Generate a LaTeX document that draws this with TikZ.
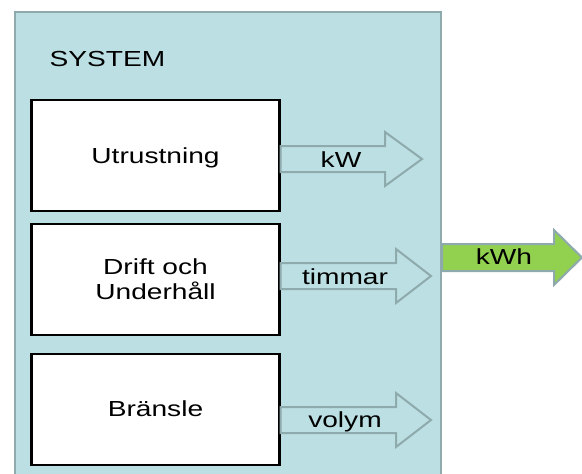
\documentclass[tikz,border=0pt]{standalone}
\usepackage{fontspec}
\setmainfont[FakeStretch=1.29]{Liberation Sans}
\definecolor{sysfill}{HTML}{BBDFE2}
\definecolor{sysline}{HTML}{8FAAAD}
\definecolor{kwhgreen}{HTML}{92D050}
\begin{document}
\begin{tikzpicture}[x=1pt,y=-1pt,
  lbl/.style={font=\fontsize{21.8}{25}\selectfont, inner sep=0pt, anchor=base},
  compbox/.style={draw=black, line width=2.2pt, fill=white, minimum width=248pt, minimum height=111pt, inner sep=0pt},
  flowarrow/.style={draw=sysline, line width=2pt, fill=sysfill, line join=miter},
  outarrow/.style={draw=sysline, line width=2pt, fill=kwhgreen, line join=miter}]
\useasboundingbox (0,0) rectangle (582,474);
\begin{scope}
\clip (0,0) rectangle (582,474);
% system box
\node[draw=sysline, line width=2pt, fill=sysfill, minimum width=426pt, minimum height=480pt, inner sep=0pt, anchor=north west] (sys) at (14,10.5) {};
\node[lbl, anchor=base west] (systxt) at (49.5,66) {SYSTEM};
% component boxes
\node[compbox] (b1) at (155.5,155.5) {};
\node[compbox] (b2) at (155.5,279.5) {};
\node[compbox] (b3) at (155.5,409.5) {};
\node[lbl] (t1) at (155.5,163) {Utrustning};
\node[lbl, align=center] (t2) at (155.5,299) {Drift och\\Underhåll};
\node[lbl] (t3) at (155.5,416) {Bränsle};
% flow arrows
\draw[flowarrow] (b1.east |- 0,146) -- (385,146) -- (385,132) -- (422,159) -- (385,186) -- (385,172) -- (b1.east |- 0,172) -- cycle;
\draw[flowarrow] (b2.east |- 0,263) -- (396,263) -- (396,249) -- (431,276) -- (396,303) -- (396,289) -- (b2.east |- 0,289) -- cycle;
\draw[flowarrow] (b3.east |- 0,407) -- (396,407) -- (396,393) -- (431,420) -- (396,447) -- (396,433) -- (b3.east |- 0,433) -- cycle;
\node[lbl] (a1) at (341,167) {kW};
\node[lbl] (a2) at (345,284) {timmar};
\node[lbl] (a3) at (345,427) {volym};
% output arrow
\draw[outarrow] (sys.east |- 0,244) -- (554,244) -- (554,230) -- (582,257.5) -- (554,285) -- (554,271) -- (sys.east |- 0,271) -- cycle;
\node[lbl] (kwh) at (504,264) {kWh};
\end{scope}
\end{tikzpicture}
\end{document}
